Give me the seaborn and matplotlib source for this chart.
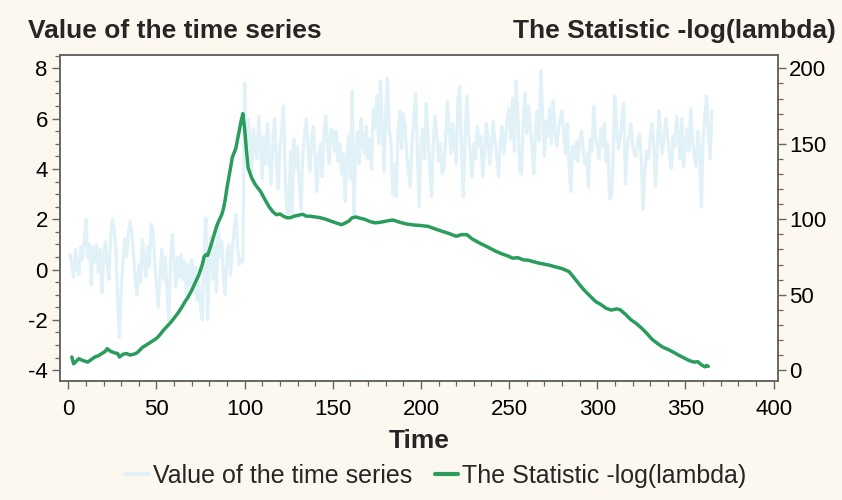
import numpy as np
import pandas as pd
import matplotlib
matplotlib.use("Agg")
import matplotlib.pyplot as plt
import seaborn as sns
from matplotlib.ticker import MultipleLocator
from matplotlib.lines import Line2D

# ---- data ----
series_values = [
    0.6, 0.2, -0.3, 0.8, 0.1, -0.2, 0.9, 0.4, 1.1, 2.0,
    0.5, 1.0, -0.6, 0.9, 0.3, 1.0, -0.1, 0.8, -0.9, 0.4,
    1.1, 0.2, -0.4, 1.3, 2.0, 1.6, 0.7, -1.2, -2.7, -0.8,
    0.3, 1.2, 0.5, 1.4, 1.9, 1.5, 0.6, -0.4, -1.0, 0.2,
    -0.5, 1.2, 0.4, -0.3, 0.9, 0.1, 1.8, 1.6, 0.3, -0.6,
    -1.5, -0.2, 0.8, -0.4, 0.5, -0.8, -2.1, 0.4, 1.4, 0.3,
    -0.7, 0.5, -0.3, 0.6, -0.4, 0.3, -1.0, 0.2, -0.6, 0.4,
    -0.9, 0.1, -1.2, -0.5, -1.6, -2.0, 0.6, 2.05, -2.0, 0.8,
    1.3, -0.4, 0.9, -0.9, 1.8, 0.5, 1.1, -0.3, -1.0, 0.6,
    1.0, -0.2, 0.8, 1.6, 2.2, 0.9, 0.2, 0.4, 0.3, 7.4,
    4.6, 6.0, 5.2, 3.9, 5.6, 4.8, 4.4, 6.1, 5.0, 3.6,
    5.3, 4.2, 5.8, 4.6, 3.4, 5.1, 6.0, 4.3, 3.2, 4.9,
    5.5, 6.5, 3.8, 2.3, 2.2, 4.7, 2.2, 5.2, 4.0, 4.9,
    3.5, 2.4, 4.6, 5.3, 6.0, 4.8, 3.9, 5.2, 5.7, 4.4,
    3.1, 4.5, 5.0, 3.7, 5.4, 6.1, 4.9, 4.2, 5.6, 5.5,
    4.7, 5.5, 4.3, 5.0, 3.8, 4.6, 2.7, 4.4, 5.3, 3.6,
    7.1, 2.2, 4.8, 5.5, 4.2, 6.0, 5.1, 4.6, 5.7, 4.4,
    5.2, 4.0, 6.4, 5.6, 6.9, 5.0, 7.5, 5.8, 3.9, 6.2,
    7.6, 5.5, 5.1, 3.0, 4.2, 2.9, 5.4, 6.3, 4.8, 6.2,
    5.7, 4.5, 3.8, 3.3, 5.1, 6.0, 7.0, 4.6, 2.5, 4.9,
    5.6, 4.4, 6.6, 5.3, 4.1, 2.9, 5.0, 6.1, 5.4, 4.3,
    5.0, 3.8, 4.0, 5.2, 6.7, 5.6, 4.6, 5.8, 5.0, 4.2,
    6.8, 7.3, 4.8, 2.9, 5.2, 6.9, 5.5, 4.6, 3.7, 5.0,
    4.4, 5.7, 4.9, 5.3, 3.7, 4.6, 5.8, 5.3, 4.2, 4.9,
    5.9, 5.1, 4.5, 3.7, 5.0, 5.7, 4.6, 5.3, 6.0, 6.4,
    5.2, 6.8, 4.7, 7.5, 6.1, 3.9, 3.8, 5.8, 7.0, 5.4,
    6.5, 5.7, 4.9, 3.8, 5.6, 6.3, 5.1, 7.9, 6.2, 4.5,
    5.9, 5.3, 6.4, 5.0, 6.7, 5.5, 4.9, 5.6, 6.0, 6.3,
    5.4, 4.6, 5.8, 4.1, 3.1, 4.9, 4.4, 5.1, 4.3, 5.0,
    5.5, 4.8, 4.2, 4.6, 3.3, 5.2, 4.7, 6.5, 5.3, 4.9,
    4.4, 5.6, 4.9, 5.8, 4.3, 5.0, 2.8, 2.9, 4.5, 6.9,
    5.6, 4.8, 5.2, 6.0, 6.6, 3.4, 4.9, 5.3, 5.8, 5.0,
    4.6, 4.5, 5.1, 5.4, 4.3, 2.4, 3.9, 4.7, 4.4, 5.2,
    5.8, 5.0, 3.3, 4.8, 6.3, 5.1, 4.6, 5.5, 6.0, 5.2,
    4.5, 4.0, 5.3, 4.9, 6.1, 5.4, 4.4, 6.0, 4.1, 5.0,
    5.6, 4.7, 6.4, 5.1, 4.6, 4.1, 5.5, 4.8, 2.5, 5.2,
    6.1, 6.9, 5.4, 4.4, 6.3,
]
series_time = list(range(1, len(series_values) + 1))

stat_time = [
    2, 3, 5, 6, 8, 11, 13, 15, 17, 19, 21, 22, 24, 26, 28, 29, 31, 33, 35, 37,
    39, 42, 44, 46, 48, 50, 52, 54, 56, 58, 60, 62, 64, 66, 68, 70, 72, 74, 76, 77,
    78, 79, 81, 83, 84, 85, 87, 88, 89, 90, 92, 93, 95, 96, 97, 98, 99, 100, 101, 102,
    104, 106, 109, 112, 114, 116, 118, 120, 122, 124, 126, 128, 130, 133, 135, 137, 140, 143, 146, 149,
    152, 155, 157, 159, 161, 163, 166, 168, 171, 174, 177, 180, 184, 188, 192, 196, 200, 204, 208, 212,
    216, 220, 223, 226, 229, 232, 235, 238, 242, 246, 249, 252, 255, 258, 261, 264, 267, 270, 273, 276,
    280, 284, 287, 290, 293, 296, 299, 302, 305, 308, 311, 313, 316, 319, 322, 325, 328, 331, 334, 337,
    340, 343, 346, 349, 352, 355, 357, 359, 361, 362, 363,
]
stat_values = [
    8.7, 4.2, 6.5, 7.6, 6.5, 5.3, 7.0, 8.7, 9.5, 11.0, 12.5, 14.2, 12.5, 11.5, 11.0, 8.7, 10.5, 11.0, 10.0, 10.5,
    11.5, 15.0, 16.5, 18.0, 19.5, 21.0, 23.5, 26.5, 29.0, 31.5, 34.5, 37.5, 41.0, 45.0, 48.5, 53.0, 58.0, 63.0, 70.0, 75.0,
    76.5, 76.0, 83.0, 91.0, 95.0, 98.0, 103.0, 107.0, 113.0, 121.0, 134.0, 141.0, 147.0, 153.0, 159.0, 165.0, 170.0, 160.0, 146.0, 134.0,
    127.5, 123.0, 118.5, 112.0, 108.0, 105.0, 103.0, 103.5, 102.0, 101.0, 101.0, 102.0, 102.5, 103.3, 102.0, 102.0, 101.5, 101.0, 100.0, 98.7,
    97.5, 96.4, 97.5, 98.7, 101.0, 101.5, 100.5, 100.0, 98.5, 97.6, 98.0, 98.7, 99.5, 98.0, 96.8, 96.2, 95.8, 95.3, 93.6, 92.0,
    90.5, 88.7, 89.8, 89.8, 87.0, 85.0, 83.2, 81.5, 79.0, 77.0, 75.8, 74.2, 74.5, 73.1, 72.8, 71.8, 70.9, 70.2, 69.5, 68.5,
    67.3, 65.3, 61.0, 56.5, 52.5, 49.0, 45.5, 43.5, 41.0, 39.8, 40.6, 40.0, 37.0, 33.5, 31.0, 28.0, 24.5, 20.5, 17.8, 15.3,
    13.8, 12.0, 10.0, 8.2, 6.4, 5.3, 5.6, 3.6, 2.2, 3.1, 2.5,
]

x_ticks = [0, 50, 100, 150, 200, 250, 300, 350, 400]
left_ticks = [-4, -2, 0, 2, 4, 6, 8]
right_ticks = [0, 50, 100, 150, 200]

label_series = "Value of the time series"
label_stat = "The Statistic -log(lambda)"

# ---- style ----
sns.set_style("ticks")
plt.rcParams["font.family"] = ["Liberation Sans", "DejaVu Sans"]
plt.rcParams["axes.unicode_minus"] = False

BG = "#FCF8EF"
BLUE = "#E0F1F8"
GREEN = "#2A9D5C"
FRAME = "#666666"

fig = plt.figure(figsize=(8.42, 5.0), dpi=100, facecolor=BG)
ax = fig.add_axes([0.0717, 0.2386, 0.8523, 0.6514])
ax.set_facecolor("white")
ax2 = ax.twinx()

df_series = pd.DataFrame({"Time": series_time, "value": series_values})
df_stat = pd.DataFrame({"Time": stat_time, "stat": stat_values})

sns.lineplot(data=df_series, x="Time", y="value", ax=ax, color=BLUE,
             linewidth=2.3, legend=False)
sns.lineplot(data=df_stat, x="Time", y="stat", ax=ax2, color=GREEN,
             linewidth=2.5, legend=False)

ax.set_xlim(-4.5, 402.5)
ax.set_ylim(-4.42, 8.53)
lo, hi = ax.get_ylim()
ax2.set_ylim((lo + 4) * 200 / 12, (hi + 4) * 200 / 12)

ax.set_xticks(x_ticks)
ax.set_xticklabels([str(v) for v in x_ticks])
ax.xaxis.set_minor_locator(MultipleLocator(10))
ax.set_yticks(left_ticks)
ax.set_yticklabels([str(v) for v in left_ticks])
ax.yaxis.set_minor_locator(MultipleLocator(0.5))
ax2.set_yticks(right_ticks)
ax2.set_yticklabels([str(v) for v in right_ticks])
ax2.yaxis.set_minor_locator(MultipleLocator(10))

for a in (ax, ax2):
    for s in a.spines.values():
        s.set_visible(True)
        s.set_color(FRAME)
        s.set_linewidth(1.2)
    a.tick_params(which="major", length=6, width=1.0, color=FRAME,
                  labelsize=16, labelcolor="black")
    a.tick_params(which="minor", length=3.5, width=0.9, color=FRAME)
ax.tick_params(axis="x", pad=7)
ax.tick_params(axis="y", pad=3)
ax2.tick_params(axis="y", pad=2)

ax.set_xlabel("Time", fontsize=19, fontweight="bold", labelpad=7)
ax.set_ylabel("")
ax2.set_ylabel("")

fig.text(28 / 842, 1 - 31 / 500, label_series, ha="left", va="center",
         fontsize=19, fontweight="bold")
fig.text(836 / 842, 1 - 31 / 500, label_stat, ha="right", va="center",
         fontsize=19, fontweight="bold")

handles = [Line2D([], [], color=BLUE, lw=3), Line2D([], [], color=GREEN, lw=3)]
fig.legend(handles, [label_series, label_stat], loc="center",
           bbox_to_anchor=(436 / 842, 1 - 476 / 500), ncol=2, frameon=False,
           fontsize=18, handlelength=0.95, handletextpad=0.15, columnspacing=0.9)

fig.savefig("out.png", dpi=100, facecolor=BG)
